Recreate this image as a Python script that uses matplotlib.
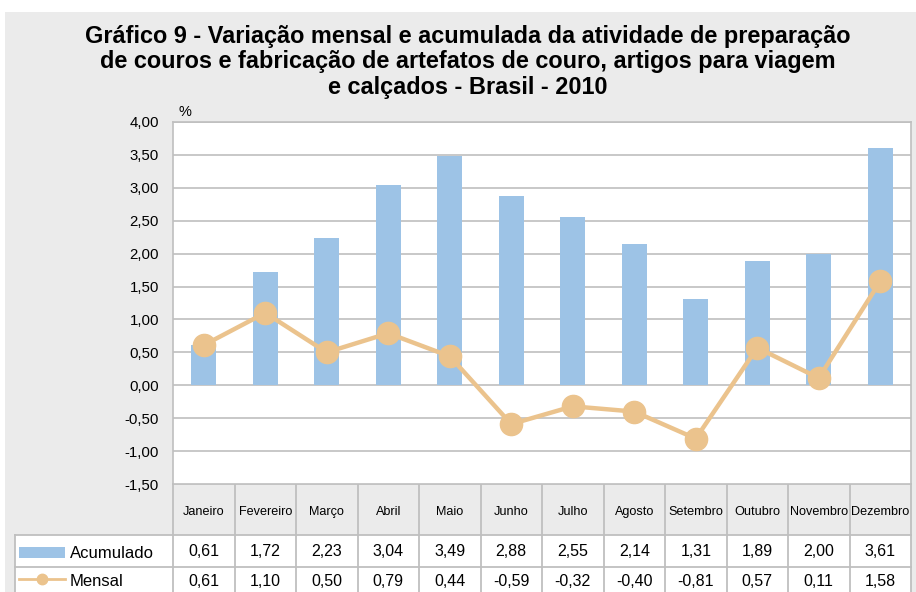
import matplotlib
matplotlib.use("Agg")
import matplotlib.pyplot as plt
from matplotlib.patches import Rectangle
from matplotlib.lines import Line2D

plt.rcParams['font.family'] = ['Liberation Sans', 'DejaVu Sans']

months = ["Janeiro", "Fevereiro", "Março", "Abril", "Maio", "Junho", "Julho",
          "Agosto", "Setembro", "Outubro", "Novembro", "Dezembro"]
acumulado = [0.61, 1.72, 2.23, 3.04, 3.49, 2.88, 2.55, 2.14, 1.31, 1.89, 2.00, 3.61]
mensal = [0.61, 1.10, 0.50, 0.79, 0.44, -0.59, -0.32, -0.40, -0.81, 0.57, 0.11, 1.58]
series_names = ["Acumulado", "Mensal"]
yticks = [-1.5, -1.0, -0.5, 0.0, 0.5, 1.0, 1.5, 2.0, 2.5, 3.0, 3.5, 4.0]
title_lines = ["Gráfico 9 - Variação mensal e acumulada da atividade de preparação",
               "de couros e fabricação de artefatos de couro, artigos para viagem",
               "e calçados - Brasil - 2010"]

W, H = 916, 592
BG = "#ebebeb"
GRID = "#bfbfbf"
BAR = "#9dc3e6"
LINE = "#ebc38d"

fig = plt.figure(figsize=(W / 100, H / 100), dpi=100)
fig.patch.set_facecolor("white")

# overlay axes in pixel coordinates
ov = fig.add_axes([0, 0, 1, 1], zorder=0)
ov.set_xlim(0, W)
ov.set_ylim(H, 0)
ov.axis("off")
ov.add_patch(Rectangle((5, 12), W - 5, H - 12, facecolor=BG, edgecolor="none"))

# plot area
L, R, T, B = 173, 911, 122, 484
ax = fig.add_axes([L / W, (H - B) / H, (R - L) / W, (B - T) / H], zorder=2)
ax.set_facecolor("white")
x = list(range(len(months)))
ax.bar(x, acumulado, width=0.41, color=BAR, zorder=2)
ax.plot(x, mensal, color=LINE, lw=3.2, marker="o", markersize=16,
        markerfacecolor=LINE, markeredgecolor=LINE, zorder=3)
ax.set_xlim(-0.5, len(months) - 0.5)
ax.set_ylim(yticks[0], yticks[-1])
ax.set_yticks(yticks)
ax.set_yticklabels([f"{v:.2f}".replace(".", ",") for v in yticks], fontsize=10.8)
ax.set_xticks([])
ax.tick_params(axis="y", length=0, pad=10)
ax.grid(axis="y", color=GRID, lw=1.2, zorder=0)
ax.set_axisbelow(True)
for s in ax.spines.values():
    s.set_color(GRID)
    s.set_linewidth(1.2)
ax.spines["bottom"].set_visible(False)

ov.text(185, 112, "%", fontsize=10.5, ha="center", va="center")
for k, line in enumerate(title_lines):
    ov.text(468, [43, 68, 94][k], line, fontsize=16.9, fontweight="bold",
            ha="center", va="baseline")

# table
colw = (R - L) / len(months)
y_h0, y_h1, y_r1, y_r2 = B, 535, 567, 599
xl = 15
ov.add_patch(Rectangle((xl, y_h1), R - xl, H - y_h1, facecolor="white", edgecolor="none"))
lc = dict(color=GRID, lw=1.3)
ov.plot([L, R], [y_h0, y_h0], **lc)
ov.plot([xl, R], [y_h1, y_h1], **lc)
ov.plot([xl, R], [y_r1, y_r1], **lc)
ov.plot([xl, xl], [y_h1, H], **lc)
for i in range(len(months) + 1):
    xx = L + i * colw
    ov.plot([xx, xx], [y_h0, H], **lc)
for i, m in enumerate(months):
    cx = L + (i + 0.5) * colw
    ov.text(cx, 512, m, fontsize=9.1, ha="center", va="center")
    ov.text(cx, 552, f"{acumulado[i]:.2f}".replace(".", ","),
            fontsize=11.5, ha="center", va="center")
    ov.text(cx, 582, f"{mensal[i]:.2f}".replace(".", ","),
            fontsize=11.5, ha="center", va="center")

# legend keys
ov.add_patch(Rectangle((19, 547), 46, 11, facecolor=BAR, edgecolor="none"))
ov.add_line(Line2D([19, 65], [579, 579], color=LINE, lw=2))
ov.plot([42], [579], marker="o", markersize=7.5, color=LINE)
ov.text(70, 553, series_names[0], fontsize=12, ha="left", va="center")
ov.text(70, 582, series_names[1], fontsize=12, ha="left", va="center")

fig.savefig("out.png", dpi=100, facecolor=fig.get_facecolor())
